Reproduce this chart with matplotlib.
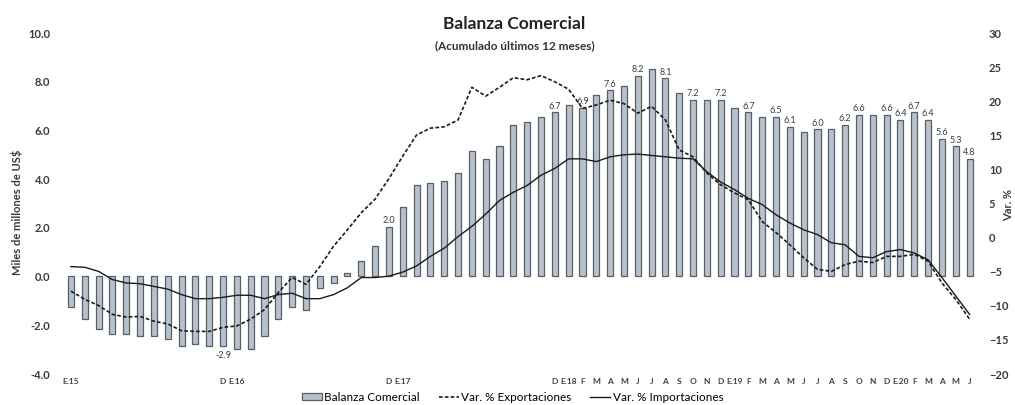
# Balanza comercial: barras (acumulado 12 meses) + variaciones % de X e M
import matplotlib
matplotlib.use('Agg')
import matplotlib.pyplot as plt
from matplotlib.patches import Patch
from matplotlib.lines import Line2D
import numpy as np

plt.rcParams['font.family'] = ['Lato', 'DejaVu Sans']

# Data (Jan 2015 - Jun 2020, monthly)
months = ['E.15', '', '', '', '', '', '', '', '', '', '', 'D',
          'E.16', '', '', '', '', '', '', '', '', '', '', 'D',
          'E.17', '', '', '', '', '', '', '', '', '', '', 'D',
          'E.18', 'F', 'M', 'A', 'M', 'J', 'J', 'A', 'S', 'O', 'N', 'D',
          'E.19', 'F', 'M', 'A', 'M', 'J', 'J', 'A', 'S', 'O', 'N', 'D',
          'E.20', 'F', 'M', 'A', 'M', 'J']

balanza = [-1.3, -1.8, -2.2, -2.4, -2.4, -2.5, -2.5, -2.6, -2.9, -2.8, -2.9, -2.9,
           -3.0, -3.0, -2.5, -1.8, -1.3, -1.4, -0.5, -0.3, 0.1, 0.6, 1.2, 2.0,
           2.8, 3.7, 3.8, 3.9, 4.2, 5.1, 4.8, 5.3, 6.2, 6.3, 6.5, 6.7,
           7.0, 6.9, 7.4, 7.6, 7.8, 8.2, 8.5, 8.1, 7.5, 7.2, 7.2, 7.2,
           6.9, 6.7, 6.5, 6.5, 6.1, 5.9, 6.0, 6.0, 6.2, 6.6, 6.6, 6.6,
           6.4, 6.7, 6.4, 5.6, 5.3, 4.8]

var_export = [-8.0, -9.2, -10.1, -11.4, -11.8, -11.7, -12.4, -12.8, -13.8, -13.9, -13.9, -13.3,
              -13.1, -12.1, -10.7, -8.2, -6.0, -7.0, -4.4, -1.4, 1.0, 3.5, 5.5, 8.5,
              11.8, 14.9, 15.9, 16.1, 17.1, 21.9, 20.6, 21.9, 23.3, 23.0, 23.6, 22.7,
              21.6, 18.8, 19.3, 20.0, 19.5, 18.1, 19.1, 17.1, 12.7, 11.7, 9.3, 7.6,
              6.4, 5.4, 2.2, 0.6, -1.2, -3.1, -4.8, -5.1, -4.1, -3.6, -3.8, -2.9,
              -2.9, -2.6, -3.6, -6.8, -9.2, -12.1]

var_import = [-4.4, -4.5, -5.1, -6.3, -6.8, -6.9, -7.3, -7.7, -8.5, -9.1, -9.1, -8.9,
              -8.6, -8.6, -9.1, -8.5, -8.3, -9.1, -9.1, -8.5, -7.5, -6.0, -6.0, -5.8,
              -5.2, -4.3, -2.9, -1.7, 0.0, 1.5, 3.3, 5.3, 6.5, 7.5, 9.0, 10.0,
              11.4, 11.4, 11.0, 11.7, 12.0, 12.1, 11.9, 11.7, 11.5, 11.4, 9.5, 8.0,
              6.9, 5.6, 4.7, 3.2, 2.0, 1.0, 0.3, -0.9, -1.2, -2.9, -3.1, -2.2,
              -1.9, -2.4, -3.4, -6.0, -8.7, -11.4]

# bars that carry a data label
labeled = [11, 23, 35, 37, 39, 41, 43, 45, 47, 49, 51, 52, 54, 56, 57, 59,
           60, 61, 62, 63, 64, 65]

bar_fc = '#b9c1cc'
bar_ec = '#575e68'
txt = '#3a3a3a'

fig = plt.figure(figsize=(10.15, 4.06), dpi=100)
ax = fig.add_axes([0.059, 0.0788, 0.9044, 0.8399])
ax2 = ax.twinx()

x = np.arange(len(balanza))
ax.bar(x, balanza, width=0.44, color=bar_fc, edgecolor=bar_ec, linewidth=0.9)

for i in labeled:
    v = balanza[i]
    ax.annotate(f'{v:.1f}', (i, v), xytext=(0, 2 if v >= 0 else -3),
                textcoords='offset points', ha='center',
                va='bottom' if v >= 0 else 'top', fontsize=6.5, color=txt)

ax2.plot(x, var_export, color='#1a1a1a', lw=1.2, ls=(0, (2.2, 1.3)))
ax2.plot(x, var_import, color='#1a1a1a', lw=1.0)

# Axes formatting
ax.set_xlim(-0.8, 65.6)
ax.set_ylim(-4, 10)
ax.set_yticks(np.arange(-4, 10.1, 2))
ax.set_yticklabels([f'{t:.1f}' for t in np.arange(-4, 10.1, 2)])
ax2.set_ylim(-20, 30)
ax2.set_yticks(np.arange(-20, 31, 5))

ax.set_xticks(x)
ax.set_xticklabels(months, fontsize=6, color='#404040', fontweight='bold')

for a in (ax, ax2):
    for s in a.spines.values():
        s.set_visible(False)
    a.tick_params(length=0)
ax.tick_params(axis='x', pad=3)
ax.tick_params(axis='y', labelsize=8, labelcolor=txt, pad=7)
ax2.tick_params(axis='y', labelsize=8, labelcolor=txt, pad=8)
for lab in ax.get_yticklabels() + ax2.get_yticklabels():
    lab.set_fontweight('bold')

# Titles and axis labels
fig.text(0.507, 1 - 24 / 406, 'Balanza Comercial', ha='center', va='center',
         fontsize=12.5, fontweight='bold', color='#222222')
fig.text(0.507, 1 - 46 / 406, '(Acumulado últimos 12 meses)', ha='center',
         va='center', fontsize=8.5, fontweight='bold', color='#333333')
fig.text(17 / 1015, 1 - 212 / 406, 'Miles de millones de US$', rotation=90,
         ha='center', va='center', fontsize=8, fontweight='bold', color=txt)
fig.text(1009 / 1015, 1 - 205 / 406, 'Var. %', rotation=90,
         ha='center', va='center', fontsize=8, fontweight='bold', color=txt)

# Legend
handles = [Patch(facecolor=bar_fc, edgecolor=bar_ec, linewidth=0.9),
           Line2D([], [], color='#1a1a1a', lw=1.2, ls=(0, (2.2, 1.3))),
           Line2D([], [], color='#1a1a1a', lw=1.0)]
fig.legend(handles, ['Balanza Comercial', 'Var. % Exportaciones', 'Var. % Importaciones'],
           loc='center', bbox_to_anchor=(0.505, 1 - 398 / 406), ncol=3,
           frameon=False, fontsize=8.5, handlelength=1.7, handleheight=0.6,
           columnspacing=1.6, handletextpad=0.2)

fig.savefig('out.png', dpi=100)
